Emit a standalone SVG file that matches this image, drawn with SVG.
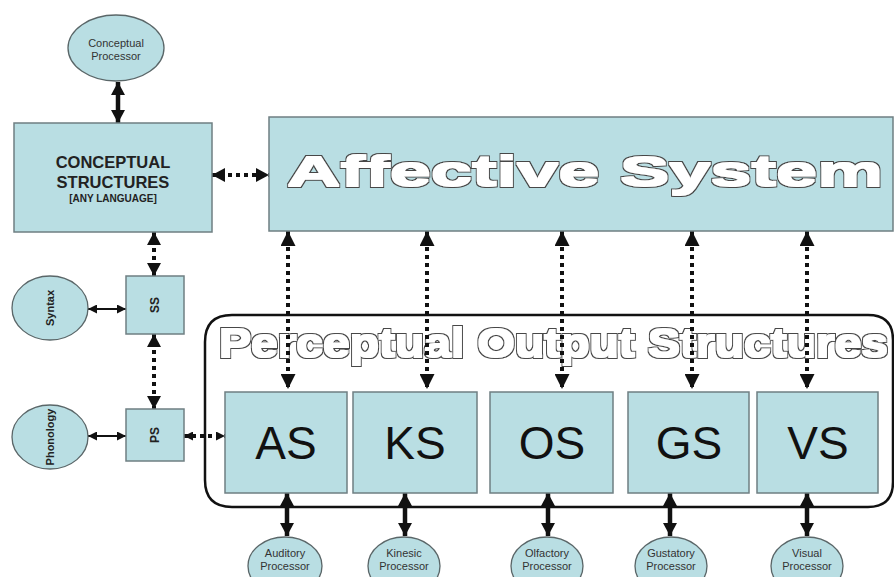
<svg xmlns="http://www.w3.org/2000/svg" width="894" height="577" viewBox="0 0 894 577">
  <defs>
    <style>
      .box { fill: #b9dee3; stroke: #6f7f82; stroke-width: 1.5; }
      .oval { fill: #b9dee3; stroke: #5a6668; stroke-width: 1.3; }
      .dots { stroke: #111; stroke-width: 4; stroke-dasharray: 4 4; fill: none; }
      .solid { stroke: #111; stroke-width: 4.5; fill: none; }
      .thin { stroke: #111; stroke-width: 2; fill: none; }
      .frame { fill: none; stroke: #111; stroke-width: 2.5; }
      .outline { font-family: "Liberation Sans", Arial, sans-serif; font-weight: bold; fill: #ffffff; filter: url(#hollow); }
      .big { font-family: "Liberation Sans", Arial, sans-serif; font-size: 46px; fill: #111; text-anchor: middle; }
      .proc { font-family: "Liberation Sans", Arial, sans-serif; font-size: 11px; fill: #333; text-anchor: middle; }
      .bold { font-family: "Liberation Sans", Arial, sans-serif; font-weight: bold; fill: #222; text-anchor: middle; }
    </style>
    <!-- white lettering with a thin dark contour -->
    <filter id="hollow" x="-5%" y="-20%" width="110%" height="140%">
      <feMorphology in="SourceAlpha" operator="dilate" radius="1.5" result="outer"/>
      <feFlood flood-color="#474747"/>
      <feComposite in2="outer" operator="in" result="edge"/>
      <feMorphology in="SourceAlpha" operator="dilate" radius="0.5" result="inner"/>
      <feFlood flood-color="#ffffff"/>
      <feComposite in2="inner" operator="in" result="face"/>
      <feMerge>
        <feMergeNode in="edge"/>
        <feMergeNode in="face"/>
      </feMerge>
    </filter>
    <marker id="head" markerUnits="userSpaceOnUse" markerWidth="15" markerHeight="15" refX="15" refY="7.5" orient="auto-start-reverse">
      <path d="M0,0 L15,7.5 L0,15 z" fill="#111"/>
    </marker>
    <marker id="headM" markerUnits="userSpaceOnUse" markerWidth="14" markerHeight="14" refX="13" refY="7" orient="auto-start-reverse">
      <path d="M0,0 L13,7 L0,14 z" fill="#111"/>
    </marker>
    <marker id="headS" markerUnits="userSpaceOnUse" markerWidth="9" markerHeight="9" refX="9" refY="4.5" orient="auto-start-reverse">
      <path d="M0,0 L9,4.5 L0,9 z" fill="#111"/>
    </marker>
  </defs>

  <rect width="894" height="577" fill="#ffffff"/>

  <!-- enclosing frame for the perceptual output structures -->
  <g id="perceptual-output">
    <path class="frame" d="M232,315 H868 Q893,315 893,340 V482 Q893,507 868,507 H232 Q205,507 205,480 V342 Q205,315 232,315 Z"/>
    <text class="outline" x="219" y="357" font-size="40" textLength="669" lengthAdjust="spacingAndGlyphs">Perceptual Output Structures</text>
  </g>

  <!-- connectors -->
  <g id="connectors">
    <line class="solid" x1="118" y1="82" x2="118" y2="123" marker-start="url(#headM)" marker-end="url(#headM)"/>
    <line class="dots" x1="212" y1="175" x2="269" y2="175" marker-start="url(#headM)" marker-end="url(#headM)"/>
    <line class="dots" x1="154" y1="232" x2="154" y2="276" marker-start="url(#headM)" marker-end="url(#headM)"/>
    <line class="dots" x1="154" y1="334" x2="154" y2="409" marker-start="url(#headM)" marker-end="url(#headM)"/>
    <line class="thin" x1="88" y1="309" x2="126" y2="309" marker-start="url(#headS)" marker-end="url(#headS)"/>
    <line class="thin" x1="88" y1="436" x2="126" y2="436" marker-start="url(#headS)" marker-end="url(#headS)"/>
    <line class="dots" x1="184" y1="436" x2="225" y2="436" marker-start="url(#headS)" marker-end="url(#headS)"/>

    <line class="dots" x1="288" y1="231" x2="288" y2="389" marker-start="url(#head)" marker-end="url(#head)"/>
    <line class="dots" x1="427" y1="231" x2="427" y2="389" marker-start="url(#head)" marker-end="url(#head)"/>
    <line class="dots" x1="562" y1="231" x2="562" y2="389" marker-start="url(#head)" marker-end="url(#head)"/>
    <line class="dots" x1="692" y1="231" x2="692" y2="389" marker-start="url(#head)" marker-end="url(#head)"/>
    <line class="dots" x1="807" y1="231" x2="807" y2="389" marker-start="url(#head)" marker-end="url(#head)"/>

    <line class="solid" x1="287" y1="493" x2="287" y2="536" marker-start="url(#headM)" marker-end="url(#headM)"/>
    <line class="solid" x1="405" y1="493" x2="405" y2="536" marker-start="url(#headM)" marker-end="url(#headM)"/>
    <line class="solid" x1="548" y1="493" x2="548" y2="536" marker-start="url(#headM)" marker-end="url(#headM)"/>
    <line class="solid" x1="670" y1="493" x2="670" y2="536" marker-start="url(#headM)" marker-end="url(#headM)"/>
    <line class="solid" x1="807" y1="493" x2="807" y2="536" marker-start="url(#headM)" marker-end="url(#headM)"/>
  </g>

  <g id="conceptual-processor">
    <ellipse class="oval" cx="116" cy="48" rx="48" ry="33"/>
    <text class="proc" x="116" y="47" font-size="10.5">Conceptual</text>
    <text class="proc" x="116" y="60" font-size="10.5">Processor</text>
  </g>

  <g id="conceptual-structures">
    <rect class="box" x="14" y="123" width="198" height="109"/>
    <text class="bold" x="113" y="168" font-size="16.5">CONCEPTUAL</text>
    <text class="bold" x="113" y="188" font-size="16.5">STRUCTURES</text>
    <text class="bold" x="113" y="202" font-size="10">[ANY LANGUAGE]</text>
  </g>

  <g id="affective-system">
    <rect class="box" x="269" y="117" width="624" height="114"/>
    <text class="outline" x="287" y="186" font-size="43" textLength="596" lengthAdjust="spacingAndGlyphs">Affective System</text>
  </g>

  <g id="syntax">
    <ellipse class="oval" cx="50" cy="308" rx="38" ry="32"/>
    <text class="bold" font-size="11" fill="#333" transform="translate(54,308) rotate(-90)">Syntax</text>
  </g>

  <g id="ss">
    <rect class="box" x="126" y="276" width="58" height="58"/>
    <text class="bold" font-size="12" transform="translate(159,305) rotate(-90)">SS</text>
  </g>

  <g id="phonology">
    <ellipse class="oval" cx="50" cy="437" rx="38" ry="32"/>
    <text class="bold" font-size="11" fill="#333" transform="translate(54,437) rotate(-90)">Phonology</text>
  </g>

  <g id="ps">
    <rect class="box" x="126" y="409" width="58" height="52"/>
    <text class="bold" font-size="12" transform="translate(159,435) rotate(-90)">PS</text>
  </g>

  <g id="as">
    <rect class="box" x="225" y="392" width="122" height="101"/>
    <text class="big" x="286" y="459">AS</text>
  </g>
  <g id="ks">
    <rect class="box" x="353" y="392" width="124" height="101"/>
    <text class="big" x="415" y="459">KS</text>
  </g>
  <g id="os">
    <rect class="box" x="490" y="392" width="123" height="101"/>
    <text class="big" x="552" y="459">OS</text>
  </g>
  <g id="gs">
    <rect class="box" x="628" y="392" width="121" height="101"/>
    <text class="big" x="689" y="459">GS</text>
  </g>
  <g id="vs">
    <rect class="box" x="757" y="392" width="121" height="101"/>
    <text class="big" x="818" y="459">VS</text>
  </g>

  <g id="auditory-processor">
    <ellipse class="oval" cx="285" cy="566" rx="37" ry="29"/>
    <text class="proc" x="285" y="557">Auditory</text>
    <text class="proc" x="285" y="570">Processor</text>
  </g>
  <g id="kinesic-processor">
    <ellipse class="oval" cx="404" cy="566" rx="36" ry="29"/>
    <text class="proc" x="404" y="557">Kinesic</text>
    <text class="proc" x="404" y="570">Processor</text>
  </g>
  <g id="olfactory-processor">
    <ellipse class="oval" cx="547" cy="566" rx="36" ry="29"/>
    <text class="proc" x="547" y="557">Olfactory</text>
    <text class="proc" x="547" y="570">Processor</text>
  </g>
  <g id="gustatory-processor">
    <ellipse class="oval" cx="671" cy="566" rx="36" ry="29"/>
    <text class="proc" x="671" y="557">Gustatory</text>
    <text class="proc" x="671" y="570">Processor</text>
  </g>
  <g id="visual-processor">
    <ellipse class="oval" cx="807" cy="566" rx="36" ry="29"/>
    <text class="proc" x="807" y="557">Visual</text>
    <text class="proc" x="807" y="570">Processor</text>
  </g>
</svg>
